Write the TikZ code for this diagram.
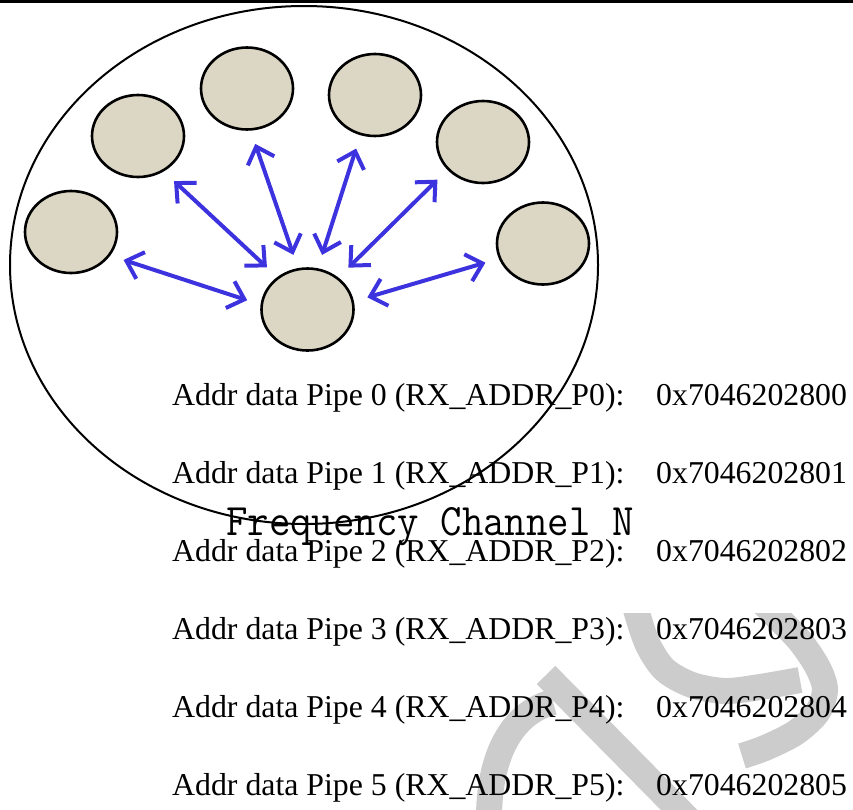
\documentclass[tikz,border=0pt]{standalone}
\usepackage{fontspec}
\usepackage{graphicx}
\setmainfont{Liberation Serif}
\usetikzlibrary{shapes.geometric,arrows.meta}
\definecolor{arena}{RGB}{220,215,196}
\definecolor{azul}{RGB}{60,50,222}
\definecolor{gris}{RGB}{204,204,204}
\begin{document}
\begin{tikzpicture}[x=1pt,y=-1pt,
    nodo/.style={ellipse, draw, line width=2.6pt, fill=arena, minimum width=92pt, minimum height=82pt, inner sep=0pt},
    flecha/.style={draw=azul, line width=4pt, {Straight Barb[length=15pt,width=28pt]}-{Straight Barb[length=15pt,width=28pt]}, shorten <=14pt, shorten >=14pt},
    texto/.style={anchor=base west, inner sep=0pt, font=\fontsize{31.8pt}{36pt}\selectfont},
    marca/.style={draw=gris, line width=26pt}]
    \useasboundingbox (0,0) rectangle (853,809);

    % Marca de agua
    \begin{scope}
        \clip (0,613) rectangle (853,809);
        \draw[marca] plot[smooth] coordinates {(630,585) (637,613) (648,645) (665,670) (692,685) (725,691) (760,687) (800,680)};
        \draw[marca] plot[smooth] coordinates {(745,585) (773,613) (800,641) (818,668) (825,690) (817,713) (795,733) (765,748) (742,756)};
    \end{scope}
    \draw[marca] (546,675) -- (690,821);
    \draw[marca] (553,702) .. controls (515,712) and (490,750) .. (489,815);

    % Linea superior y canal
    \draw[line width=2.7pt] (0,1.35) -- (853,1.35);
    \draw[line width=2pt] (304,265) ellipse [x radius=294, y radius=259];

    % Nodos
    \node[nodo] (rx) at (307.5,309.5) {};
    \node[nodo] (tx1) at (71,232) {};
    \node[nodo] (tx2) at (138,136) {};
    \node[nodo] (tx3) at (247,88.5) {};
    \node[nodo] (tx4) at (375,95) {};
    \node[nodo] (tx5) at (483,142) {};
    \node[nodo] (tx6) at (543,243.5) {};

    % Flechas
    \draw[flecha] (tx1.-31.5) -- (rx.174.5);
    \draw[flecha] (tx2.-54.5) -- (rx.133.4);
    \draw[flecha] (tx3.-85) -- (rx.103);
    \draw[flecha] (tx4.-110) -- (rx.76);
    \draw[flecha] (tx5.-142) -- (rx.46);
    \draw[flecha] (tx6.-161) -- (rx.10);

    % Direcciones
    \node[anchor=base west, inner sep=0pt, font=\ttfamily\fontsize{45pt}{50pt}\selectfont] (canal) at (226,535) {\scalebox{0.925}[1]{Frequency Channel N}};
    \node[texto] (p0) at (172,405) {Addr data Pipe 0 (RX\_ADDR\_P0):};
    \node[texto] (d0) at (656,405) {0x7046202800};
    \node[texto] (p1) at (172,483) {Addr data Pipe 1 (RX\_ADDR\_P1):};
    \node[texto] (d1) at (656,483) {0x7046202801};
    \node[texto] (p2) at (172,561) {Addr data Pipe 2 (RX\_ADDR\_P2):};
    \node[texto] (d2) at (656,561) {0x7046202802};
    \node[texto] (p3) at (172,639) {Addr data Pipe 3 (RX\_ADDR\_P3):};
    \node[texto] (d3) at (656,639) {0x7046202803};
    \node[texto] (p4) at (172,717) {Addr data Pipe 4 (RX\_ADDR\_P4):};
    \node[texto] (d4) at (656,717) {0x7046202804};
    \node[texto] (p5) at (172,795) {Addr data Pipe 5 (RX\_ADDR\_P5):};
    \node[texto] (d5) at (656,795) {0x7046202805};
\end{tikzpicture}
\end{document}
